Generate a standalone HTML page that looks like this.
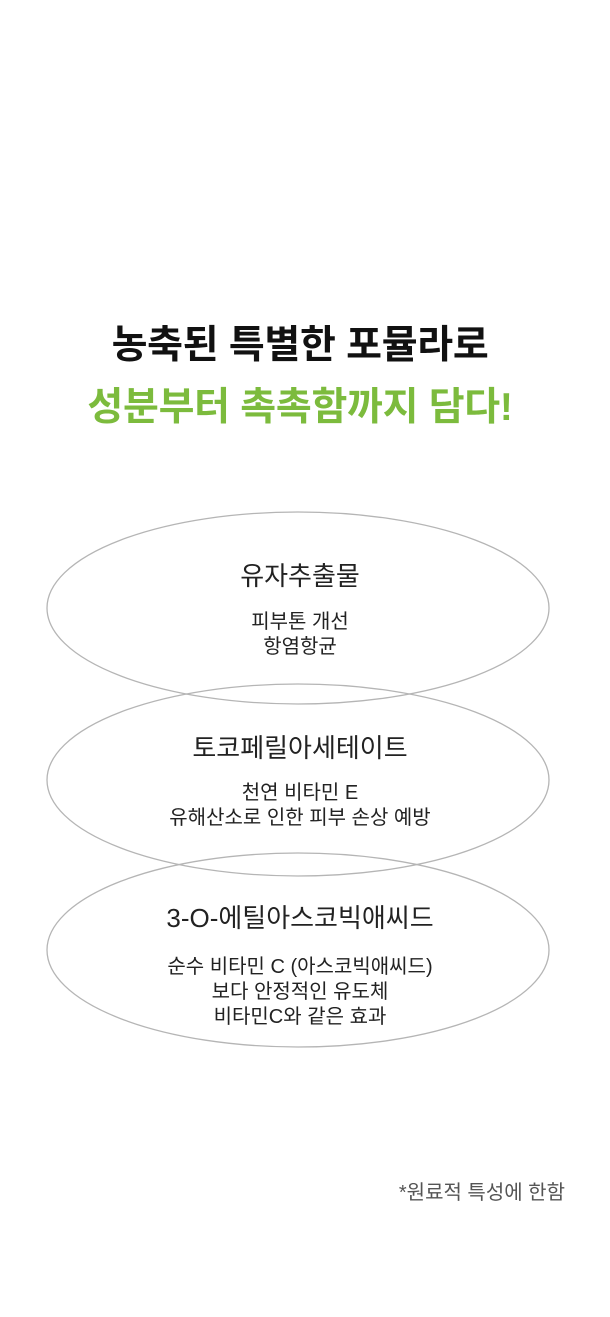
<!DOCTYPE html>
<html><head><meta charset="utf-8"><style>
html,body{margin:0;padding:0;background:#fff;}
body{width:610px;height:1317px;position:relative;overflow:hidden;font-family:"Liberation Sans","Noto Sans CJK KR",sans-serif;}
.t{position:absolute;left:0;width:600px;text-align:center;white-space:nowrap;}
.h{font-size:39px;font-weight:bold;letter-spacing:-0.3px;line-height:46px;}
.n{font-size:26px;color:#222;line-height:30px;}
.b{font-size:20px;color:#222;line-height:25px;}
</style></head><body>
<div class="t h" style="top:323px;color:#111;">농축된 특별한 포뮬라로</div>
<div class="t h" style="top:385px;color:#7cbb3d;">성분부터 촉촉함까지 담다!</div>
<svg width="610" height="1317" style="position:absolute;left:0;top:0">
<g fill="none" stroke="#b5b5b5" stroke-width="1.3">
<ellipse cx="298" cy="608" rx="251" ry="96"/>
<ellipse cx="298" cy="780" rx="251" ry="96"/>
<ellipse cx="298" cy="950" rx="251" ry="97"/>
</g></svg>
<div class="t n" style="top:561px;">유자추출물</div>
<div class="t b" style="top:610px;">피부톤 개선<br>항염항균</div>
<div class="t n" style="top:733px;">토코페릴아세테이트</div>
<div class="t b" style="top:781px;">천연 비타민 E<br>유해산소로 인한 피부 손상 예방</div>
<div class="t n" style="top:903px;">3-O-에틸아스코빅애씨드</div>
<div class="t b" style="top:955px;">순수 비타민 C (아스코빅애씨드)<br>보다 안정적인 유도체<br>비타민C와 같은 효과</div>
<div style="position:absolute;right:45px;top:1176px;font-size:20px;color:#555;white-space:nowrap;">*원료적 특성에 한함</div>
</body></html>
